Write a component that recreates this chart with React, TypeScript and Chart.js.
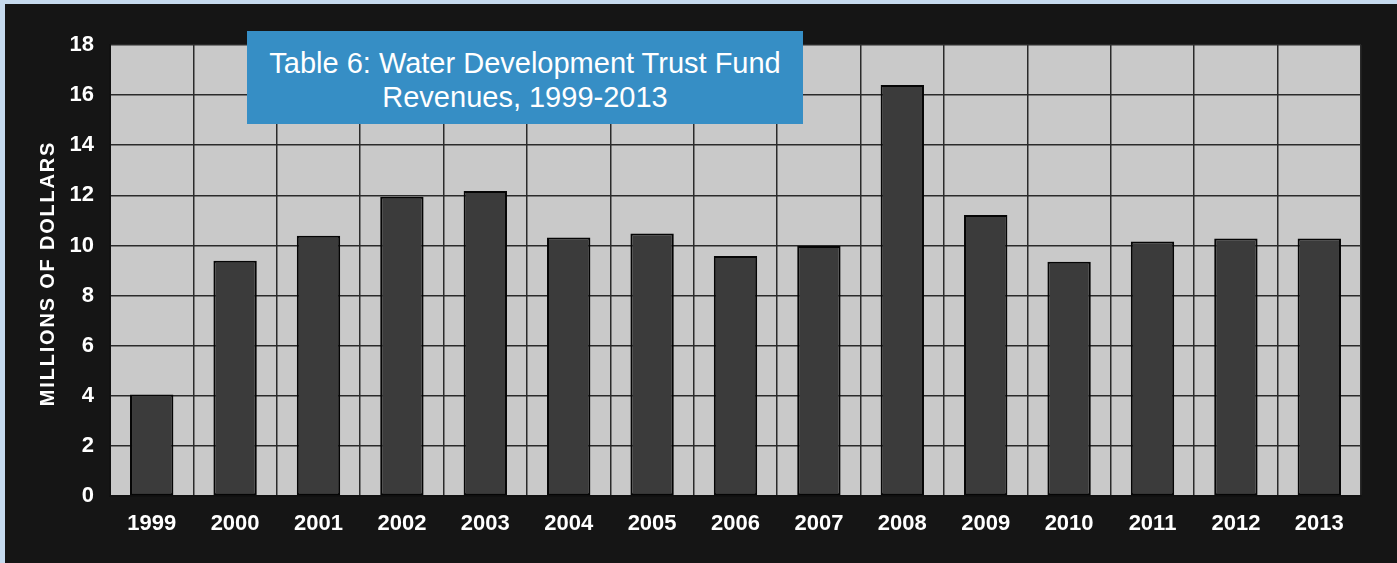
import React, { useEffect, useRef } from "react";
import { Chart, registerables } from "chart.js";

Chart.register(...registerables);

const years: string[] = ["1999", "2000", "2001", "2002", "2003", "2004", "2005", "2006", "2007", "2008", "2009", "2010", "2011", "2012", "2013"];
const revenues: number[] = [4.05, 9.39, 10.39, 11.94, 12.17, 10.32, 10.48, 9.58, 9.98, 16.4, 11.22, 9.35, 10.16, 10.28, 10.28];
const yTicks: number[] = [0, 2, 4, 6, 8, 10, 12, 14, 16, 18];
const titleLines: string[] = ["Table 6: Water Development Trust Fund", "Revenues, 1999-2013"];
const yAxisTitle = "MILLIONS OF DOLLARS";

const FONT = "'Liberation Sans', Arial, Helvetica, sans-serif";

const plotBg = {
  id: "plotBg",
  beforeDraw(chart: any) {
    const { ctx, chartArea } = chart;
    if (!chartArea) return;
    ctx.save();
    ctx.fillStyle = "#c9c9c9";
    ctx.fillRect(chartArea.left, chartArea.top, chartArea.right - chartArea.left, chartArea.bottom - chartArea.top);
    ctx.restore();
  },
};

const spacedAxisTitle = {
  id: "spacedAxisTitle",
  afterDraw(chart: any) {
    const { ctx, chartArea } = chart;
    ctx.save();
    ctx.fillStyle = "#ffffff";
    ctx.font = `bold 20px ${FONT}`;
    (ctx as any).letterSpacing = "1.8px";
    ctx.textAlign = "center";
    ctx.textBaseline = "middle";
    ctx.translate(43, (chartArea.top + chartArea.bottom) / 2 + 3);
    ctx.rotate(-Math.PI / 2);
    ctx.fillText(yAxisTitle, 0, 0);
    ctx.restore();
  },
};

export default function App() {
  const ref = useRef<HTMLCanvasElement | null>(null);

  useEffect(() => {
    if (!ref.current) return;
    const chart = new Chart(ref.current, {
      type: "bar",
      data: {
        labels: years,
        datasets: [
          {
            data: revenues,
            backgroundColor: "#3b3b3b",
            borderColor: "#050505",
            borderWidth: 2,
            borderSkipped: false,
            categoryPercentage: 1,
            barPercentage: 0.52,
          },
        ],
      },
      options: {
        animation: false,
        responsive: false,
        maintainAspectRatio: false,
        layout: { padding: { left: 0, right: 36, top: 41, bottom: 0 } },
        plugins: {
          legend: { display: false },
          title: { display: false },
          tooltip: { enabled: false },
        },
        scales: {
          x: {
            offset: true,
            grid: { display: true, offset: true, color: "#2a2a2a", lineWidth: 1.5, drawTicks: false },
            border: { display: true, color: "#111111", width: 2 },
            ticks: {
              color: "#ffffff",
              padding: 15,
              maxRotation: 0,
              autoSkip: false,
              font: { family: FONT, size: 22, weight: "bold" },
            },
            afterFit: (s: any) => {
              s.height = 67;
            },
          },
          y: {
            min: 0,
            max: 18,
            afterBuildTicks: (s: any) => {
              s.ticks = yTicks.map((v) => ({ value: v }));
            },
            grid: { color: "#2a2a2a", lineWidth: 1.5, drawTicks: false },
            border: { display: true, color: "#111111", width: 2 },
            ticks: {
              color: "#ffffff",
              padding: 16,
              font: { family: FONT, size: 22, weight: "bold" },
            },
            title: { display: false, text: yAxisTitle },
            afterFit: (s: any) => {
              s.width = 105;
            },
          },
        },
      },
      plugins: [plotBg, spacedAxisTitle],
    });
    return () => chart.destroy();
  }, []);

  return (
    <div style={{ position: "absolute", left: 0, top: 0, width: 1397, height: 563, background: "#c6daee", overflow: "hidden" }}>
      <div style={{ position: "absolute", left: 5, top: 4, width: 1392, height: 559, background: "#151515" }}>
        <canvas ref={ref} width={1392} height={559} style={{ display: "block", width: 1392, height: 559 }} />
      </div>
      <div
        style={{
          position: "absolute",
          left: 247,
          top: 31,
          width: 556,
          height: 93,
          background: "#368ec5",
          color: "#ffffff",
          fontFamily: FONT,
          fontSize: 29,
          lineHeight: "34px",
          textAlign: "center",
          boxSizing: "border-box",
          paddingTop: 15,
          whiteSpace: "nowrap",
        }}
      >
        {titleLines.map((t, i) => (
          <div key={i}>{t}</div>
        ))}
      </div>
    </div>
  );
}
